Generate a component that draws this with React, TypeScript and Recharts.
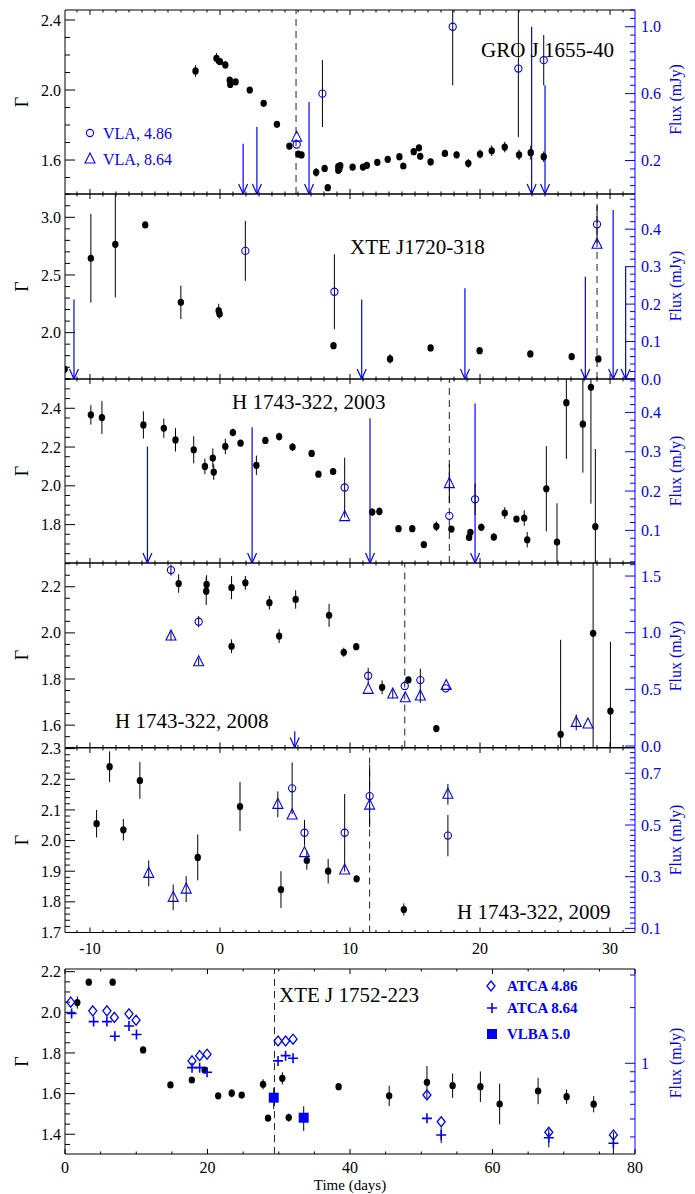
import React from 'react';
import { ComposedChart, Scatter, XAxis, YAxis, ErrorBar, ReferenceLine } from 'recharts';

type Row = [number, number, number?];

const BLUE = '#0000ff';
const SERIF = '"Liberation Serif", "DejaVu Serif", serif';

// ---- GRO J 1655-40 ----
const groGamma: Row[] = [
  [-1.88, 2.109, 0.033], [-0.27, 2.181, 0.03], [0, 2.162, 0.015], [0.41, 2.143, 0.02],
  [0.75, 2.057, 0.015], [0.79, 2.032, 0.01], [1.2, 2.046, 0.01], [2.29, 2.0, 0.01],
  [3.36, 1.924, 0.01], [4.38, 1.804, 0.01], [5.34, 1.68, 0.01], [6.03, 1.634, 0.01],
  [6.27, 1.629, 0.01], [7.4, 1.53, 0.025], [8.05, 1.552, 0.01], [8.29, 1.442, 0.01],
  [9.1, 1.562, 0.01], [9.18, 1.549, 0.02], [9.1, 1.541, 0.01], [9.25, 1.568, 0.01],
  [10.2, 1.56, 0.01], [11.0, 1.56, 0.01], [11.3, 1.57, 0.015], [12.1, 1.587, 0.01],
  [12.9, 1.604, 0.01], [13.8, 1.619, 0.02], [14.1, 1.566, 0.015], [14.9, 1.648, 0.015],
  [15.3, 1.67, 0.015], [15.4, 1.621, 0.01], [16.2, 1.589, 0.02], [17.3, 1.638, 0.02],
  [18.2, 1.63, 0.02], [19.1, 1.581, 0.025], [20.0, 1.634, 0.025], [20.9, 1.653, 0.03],
  [21.9, 1.674, 0.03], [23.0, 1.63, 0.03], [23.9, 1.642, 0.04], [24.9, 1.619, 0.03],
];
const groVla486: Row[] = [[5.9, 0.296, 0], [7.88, 0.6, 0.2], [17.9, 1.0, 0.35], [22.95, 0.75, 0.41], [24.9, 0.8, 0.15]];
const groVla864: Row[] = [[5.9, 0.34, 0]];
const groLimits: Row[] = [[1.78, 0.3], [2.84, 0.4], [6.85, 0.55], [23.97, 1.0], [25.0, 0.65]];

// ---- XTE J1720-318 ----
const xteAGamma: Row[] = [
  [-11.95, 1.682, 0], [-9.93, 2.645, 0.385], [-8.05, 2.766, 0.46], [-5.75, 2.934, 0],
  [-3.01, 2.263, 0.145], [-0.1, 2.19, 0.06], [-0.03, 2.162, 0.04], [8.73, 1.887, 0],
  [13.08, 1.772, 0.04], [16.2, 1.867, 0], [19.97, 1.844, 0], [23.87, 1.815, 0],
  [27.05, 1.792, 0], [29.1, 1.772, 0.02],
];
const xteAVla486: Row[] = [[1.95, 0.342, 0.08], [8.8, 0.233, 0.1], [29.0, 0.413, 0.05]];
const xteAVla864: Row[] = [[29.0, 0.36, 0]];
const xteALimits: Row[] = [[-11.23, 0.212], [10.9, 0.212], [18.84, 0.242], [28.1, 0.273], [30.24, 0.451], [31.2, 0.3]];

// ---- H 1743-322, 2003 ----
const h03Gamma: Row[] = [
  [-9.93, 2.366, 0.05], [-9.08, 2.352, 0.085], [-5.89, 2.314, 0.07], [-4.32, 2.297, 0.05],
  [-3.42, 2.237, 0.06], [-2.02, 2.186, 0.07], [-1.16, 2.1, 0.04], [-0.55, 2.143, 0.05],
  [-0.48, 2.071, 0.04], [0.41, 2.203, 0.04], [0.99, 2.275, 0.02], [1.58, 2.22, 0.01],
  [2.8, 2.106, 0.05], [3.49, 2.234, 0.01], [4.55, 2.254, 0.02], [5.58, 2.2, 0.02],
  [7.05, 2.167, 0.01], [7.57, 2.06, 0.01], [8.7, 2.074, 0.01], [11.71, 1.865, 0.02],
  [12.26, 1.868, 0.02], [13.73, 1.779, 0.01], [14.79, 1.779, 0.015], [15.68, 1.697, 0.01],
  [16.64, 1.791, 0.025], [17.8, 1.777, 0.01], [19.16, 1.734, 0.01], [19.26, 1.76, 0.01],
  [20.1, 1.786, 0.02], [21.06, 1.736, 0.02], [21.9, 1.86, 0.03], [22.8, 1.829, 0.015],
  [23.4, 1.834, 0.04], [23.63, 1.722, 0.04], [25.1, 1.985, 0.22], [25.92, 1.71, 0.2],
  [26.64, 2.429, 0.29], [27.91, 2.318, 0.25], [28.53, 2.508, 0.6], [28.87, 1.79, 0.4],
];
const h03Vla486: Row[] = [[9.59, 0.209, 0.076], [17.64, 0.137, 0], [19.62, 0.179, 0.04]];
const h03Vla864: Row[] = [[9.59, 0.135, 0], [17.64, 0.219, 0.05]];
const h03Limits: Row[] = [[-5.58, 0.313], [2.47, 0.362], [11.54, 0.385], [19.62, 0.423]];

// ---- H 1743-322, 2008 ----
const h08Gamma: Row[] = [
  [-3.18, 2.214, 0.04], [-1.03, 2.21, 0.04], [-1.06, 2.181, 0.06], [0.89, 2.196, 0.05],
  [1.95, 2.217, 0.03], [0.89, 1.942, 0.03], [3.8, 2.131, 0.03], [4.55, 1.986, 0.03],
  [5.82, 2.145, 0.04], [8.39, 2.076, 0.05], [9.52, 1.916, 0.02], [10.48, 1.94, 0.01],
  [12.47, 1.764, 0.03], [14.49, 1.796, 0.005], [16.64, 1.585, 0.01], [26.2, 1.56, 0.41],
  [28.7, 1.998, 0.5], [30.03, 1.661, 0.3],
];
const h08Vla486: Row[] = [[-3.77, 1.553, 0.05], [-1.64, 1.097, 0.05], [11.4, 0.62, 0.07], [14.21, 0.53, 0], [15.41, 0.582, 0.1], [17.36, 0.509, 0]];
const h08Vla864: Row[] = [
  [-3.77, 0.971, 0.04], [-1.64, 0.744, 0.03], [11.4, 0.5, 0], [13.29, 0.459, 0.04], [14.25, 0.426, 0],
  [15.41, 0.441, 0.06], [17.4, 0.535, 0], [27.4, 0.209, 0.07], [28.3, 0.194, 0],
];
const h08Limits: Row[] = [[5.75, 0.13]];

// ---- H 1743-322, 2009 ----
const h09Gamma: Row[] = [
  [-9.49, 2.055, 0.045], [-8.49, 2.241, 0.05], [-7.43, 2.035, 0.035], [-6.16, 2.196, 0.06],
  [-1.71, 1.945, 0.075], [1.54, 2.111, 0.08], [4.69, 1.84, 0.06], [6.68, 1.935, 0.03],
  [8.32, 1.9, 0.04], [10.51, 1.875, 0.01], [14.14, 1.775, 0.02],
];
const h09Vla486: Row[] = [[5.55, 0.642, 0.1], [6.5, 0.47, 0.05], [9.59, 0.47, 0.15], [11.51, 0.612, 0.12], [17.53, 0.459, 0.08]];
const h09Vla864: Row[] = [
  [-5.48, 0.313, 0.05], [-3.6, 0.22, 0.05], [-2.6, 0.252, 0.05], [4.45, 0.58, 0.05], [5.55, 0.539, 0],
  [6.5, 0.393, 0], [9.59, 0.326, 0], [11.51, 0.577, 0], [17.53, 0.619, 0.04],
];

// ---- XTE J 1752-223 ----
const xteBGamma: Row[] = [
  [1.73, 2.048, 0.03], [3.34, 2.148, 0.015], [6.69, 2.148, 0.005], [10.96, 1.815, 0.005],
  [14.8, 1.643, 0.005], [17.8, 1.667, 0.01], [19.6, 1.716, 0.01], [21.5, 1.589, 0.015],
  [23.4, 1.602, 0.02], [24.8, 1.593, 0.01], [27.8, 1.646, 0.025], [28.5, 1.479, 0.01],
  [30.5, 1.675, 0.03], [31.4, 1.482, 0.02], [38.4, 1.634, 0.015], [45.5, 1.589, 0.05],
  [50.8, 1.656, 0.08], [54.4, 1.639, 0.06], [58.3, 1.634, 0.075], [61.0, 1.549, 0.1],
  [66.4, 1.613, 0.065], [70.4, 1.585, 0.035], [74.2, 1.548, 0.04],
];
const xteBAtca486: Row[] = [
  [0.8, 2.14], [3.9, 1.92], [5.88, 1.92], [6.93, 1.77], [8.98, 1.85], [9.97, 1.71],
  [17.83, 1.03], [18.9, 1.1], [19.94, 1.12], [29.9, 1.32], [30.96, 1.32], [32.0, 1.35],
  [50.8, 0.674], [52.8, 0.483], [67.9, 0.424], [76.97, 0.41],
];
const xteBAtca864: Row[] = [
  [0.93, 1.86], [4.02, 1.68], [5.88, 1.68], [7.0, 1.4], [8.98, 1.59], [10.03, 1.43],
  [17.83, 0.947], [18.9, 0.947], [19.94, 0.894], [29.9, 1.03], [30.96, 1.1], [32.0, 1.064],
  [50.8, 0.504], [52.8, 0.41, 0.04], [67.9, 0.396, 0.045], [76.97, 0.37, 0.055],
];
const xteBVlba: Row[] = [[29.3, 0.652, 0.085], [33.5, 0.508, 0.077]];

// ---- axis ticks ----
const steps = (a: number, b: number, s: number) => {
  const out: number[] = [];
  for (let v = a; v <= b + 1e-9; v += s) out.push(Math.round(v * 1000) / 1000);
  return out;
};
const dayMajor = [-10, 0, 10, 20, 30];
const dayMinor = steps(-11, 31, 1);
const timeMajor = [0, 20, 40, 60, 80];
const timeMinor = steps(0, 80, 5);

type Shape = 'ring' | 'tri' | 'diamond' | 'plus' | 'square';

interface PanelCfg {
  top: number;
  h: number;
  xDomain: [number, number];
  xMajor: number[];
  xMinor: number[];
  xLabels: boolean;
  xLabelDy?: number;
  gDomain: [number, number];
  gMajor: number[];
  gMinor: number[];
  fDomain: [number, number];
  fMajor: number[];
  fMinor: number[];
  fLog?: boolean;
  gamma: Row[];
  radio: { rows: Row[]; shape: Shape }[];
  limits?: Row[];
  dashed: number;
}

const shapes: Record<Shape, (p: any) => React.ReactElement> = {
  ring: (p) => <circle cx={p.cx} cy={p.cy} r={3.6} fill="none" stroke={BLUE} strokeWidth={1.1} />,
  tri: (p) => (
    <path d={`M${p.cx},${p.cy - 6}L${p.cx + 5},${p.cy + 4}L${p.cx - 5},${p.cy + 4}Z`} fill="none" stroke={BLUE} strokeWidth={1.1} />
  ),
  diamond: (p) => (
    <path d={`M${p.cx},${p.cy - 5}L${p.cx + 4},${p.cy}L${p.cx},${p.cy + 5}L${p.cx - 4},${p.cy}Z`} fill="none" stroke={BLUE} strokeWidth={1.3} />
  ),
  plus: (p) => (
    <path d={`M${p.cx - 5},${p.cy}H${p.cx + 5}M${p.cx},${p.cy - 5}V${p.cy + 5}`} stroke={BLUE} strokeWidth={1.6} />
  ),
  square: (p) => <rect x={p.cx - 5} y={p.cy - 5} width={10} height={10} fill={BLUE} />,
};
const dot = (p: any) => <ellipse cx={p.cx} cy={p.cy} rx={3.2} ry={3.6} fill="#000" />;

const arrow = (p: any) => {
  const { x1, y1, x2, y2 } = p;
  return (
    <g>
      <line x1={x1} y1={y1} x2={x2} y2={y2} stroke={BLUE} strokeWidth={1.2} />
      <polyline points={`${x2 - 4.5},${y2 - 10} ${x2},${y2} ${x2 + 4.5},${y2 - 10}`} fill="none" stroke={BLUE} strokeWidth={1.2} />
    </g>
  );
};

const PLOT_L = 65;
const PLOT_R = 635;
const W = 695;
const AX_W = 40;
const PAD_TOP = 12;

const isMajor = (v: number, major: number[]) => major.some((m) => Math.abs(m - v) < 1e-6);
const mergeTicks = (major: number[], minor: number[], [a, b]: [number, number]) =>
  Array.from(new Set([...major, ...minor])).filter((v) => v >= a - 1e-9 && v <= b + 1e-9).sort((x, y) => x - y);
const toRows = (rows: Row[]) => rows.map(([t, v, e]) => ({ t, v, e: e ?? 0 }));
const padBottom = (p: PanelCfg) => (p.xLabels ? 30 : 12);

// one chart per panel and layer: 'axes' draws frame + ticks, 'data' draws the marks (clipped by the wrapper)
function PanelChart({ p, layer }: { p: PanelCfg; layer: 'axes' | 'data' }) {
  const padBot = padBottom(p);
  const height = p.h + PAD_TOP + padBot;
  const plotTop = PAD_TOP;
  const plotBot = PAD_TOP + p.h;
  const axes = layer === 'axes';

  const xTick = (props: any) => {
    const { x, payload } = props;
    const v = payload.value;
    const major = isMajor(v, p.xMajor);
    const len = major ? 5 : 2.5;
    return (
      <g>
        <line x1={x} x2={x} y1={plotBot} y2={plotBot - len} stroke="#000" />
        <line x1={x} x2={x} y1={plotTop} y2={plotTop + len} stroke="#000" />
        {major && p.xLabels && (
          <text x={x} y={plotBot + (p.xLabelDy ?? 21)} textAnchor="middle" fontSize={16} fontFamily={SERIF} fill="#000">
            {v}
          </text>
        )}
      </g>
    );
  };
  const gTick = (props: any) => {
    const { y, payload } = props;
    const v = payload.value;
    const major = isMajor(v, p.gMajor);
    return (
      <g>
        <line x1={PLOT_L} x2={PLOT_L + (major ? 10 : 5)} y1={y} y2={y} stroke="#000" />
        {major && (
          <text x={PLOT_L - 4} y={y} dy="0.35em" textAnchor="end" fontSize={16} fontFamily={SERIF} fill="#000">
            {v.toFixed(1)}
          </text>
        )}
      </g>
    );
  };
  const fTick = (props: any) => {
    const { y, payload } = props;
    const v = payload.value;
    const major = isMajor(v, p.fMajor);
    return (
      <g>
        <line x1={PLOT_R} x2={PLOT_R - (major ? 10 : 5)} y1={y} y2={y} stroke={BLUE} />
        {major && (
          <text x={PLOT_R + 6} y={y} dy="0.35em" textAnchor="start" fontSize={16} fontFamily={SERIF} fill={BLUE}>
            {p.fLog ? String(v) : v.toFixed(1)}
          </text>
        )}
      </g>
    );
  };

  return (
    <ComposedChart
      width={W}
      height={height}
      margin={{ top: PAD_TOP, bottom: 0, left: PLOT_L - AX_W, right: W - PLOT_R - AX_W }}
    >
      <XAxis
        type="number"
        dataKey="t"
        domain={p.xDomain}
        allowDataOverflow
        ticks={mergeTicks(p.xMajor, p.xMinor, p.xDomain)}
        interval={0}
        tickLine={false}
        tick={axes ? xTick : false}
        height={padBot}
        axisLine={axes ? { stroke: '#000' } : false}
      />
      <YAxis
        yAxisId="g"
        dataKey="v"
        type="number"
        domain={p.gDomain}
        allowDataOverflow
        ticks={mergeTicks(p.gMajor, p.gMinor, p.gDomain)}
        interval={0}
        tickLine={false}
        tick={axes ? gTick : false}
        width={AX_W}
        axisLine={axes ? { stroke: '#000' } : false}
      />
      <YAxis
        yAxisId="f"
        orientation="right"
        dataKey="v"
        type="number"
        scale={p.fLog ? 'log' : 'linear'}
        domain={p.fDomain}
        allowDataOverflow
        ticks={mergeTicks(p.fMajor, p.fMinor, p.fDomain)}
        interval={0}
        tickLine={false}
        tick={axes ? fTick : false}
        width={AX_W}
        axisLine={axes ? { stroke: BLUE } : false}
      />
      {axes && <ReferenceLine yAxisId="g" y={p.gDomain[1]} stroke="#000" />}
      {!axes && <ReferenceLine yAxisId="g" x={p.dashed} stroke="#222" strokeDasharray="7 5" />}
      {!axes &&
        (p.limits ?? []).map(([t, v], i) => (
          <ReferenceLine
            key={`lim${i}`}
            yAxisId="f"
            segment={[{ x: t, y: v }, { x: t, y: p.fDomain[0] }]}
            shape={arrow}
          />
        ))}
      {!axes && (
        <Scatter yAxisId="g" data={toRows(p.gamma)} shape={dot} isAnimationActive={false}>
          <ErrorBar dataKey="e" direction="y" width={0} stroke="#000" strokeWidth={1} />
        </Scatter>
      )}
      {!axes &&
        p.radio.map((r, i) => (
          <Scatter key={`r${i}`} yAxisId="f" data={toRows(r.rows)} shape={shapes[r.shape]} isAnimationActive={false}>
            <ErrorBar dataKey="e" direction="y" width={0} stroke="#000" strokeWidth={1} />
          </Scatter>
        ))}
    </ComposedChart>
  );
}

function Panel(p: PanelCfg) {
  const padBot = padBottom(p);
  const height = p.h + PAD_TOP + padBot;
  return (
    <div style={{ position: 'absolute', left: 0, top: p.top - PAD_TOP, width: W, height }}>
      <div style={{ position: 'absolute', left: 0, top: 0 }}>
        <PanelChart p={p} layer="axes" />
      </div>
      <div
        style={{
          position: 'absolute',
          left: 0,
          top: 0,
          clipPath: `inset(${PAD_TOP}px ${W - PLOT_R}px ${padBot}px ${PLOT_L}px)`,
        }}
      >
        <PanelChart p={p} layer="data" />
      </div>
    </div>
  );
}

const topX = { xDomain: [-11.92, 31.92] as [number, number], xMajor: dayMajor, xMinor: dayMinor };

const panels: PanelCfg[] = [
  {
    top: 10, h: 184, ...topX, xLabels: false,
    gDomain: [1.406, 2.457], gMajor: [1.6, 2.0, 2.4], gMinor: steps(1.5, 2.4, 0.1),
    fDomain: [0, 1.1], fMajor: [0.2, 0.6, 1.0], fMinor: steps(0.05, 1.1, 0.05),
    gamma: groGamma,
    radio: [{ rows: groVla486, shape: 'ring' }, { rows: groVla864, shape: 'tri' }],
    limits: groLimits, dashed: 5.85,
  },
  {
    top: 194, h: 185, ...topX, xLabels: false,
    gDomain: [1.598, 3.202], gMajor: [2.0, 2.5, 3.0], gMinor: steps(1.6, 3.2, 0.1),
    fDomain: [0, 0.494], fMajor: [0, 0.1, 0.2, 0.3, 0.4], fMinor: steps(0, 0.48, 0.02),
    gamma: xteAGamma,
    radio: [{ rows: xteAVla486, shape: 'ring' }, { rows: xteAVla864, shape: 'tri' }],
    limits: xteALimits, dashed: 29.0,
  },
  {
    top: 379, h: 184, ...topX, xLabels: false,
    gDomain: [1.602, 2.551], gMajor: [1.6, 1.8, 2.0, 2.2, 2.4], gMinor: steps(1.65, 2.55, 0.05),
    fDomain: [0.017, 0.485], fMajor: [0.1, 0.2, 0.3, 0.4], fMinor: steps(0.02, 0.48, 0.02),
    gamma: h03Gamma,
    radio: [{ rows: h03Vla486, shape: 'ring' }, { rows: h03Vla864, shape: 'tri' }],
    limits: h03Limits, dashed: 17.64,
  },
  {
    top: 563, h: 184.5, ...topX, xLabels: false,
    gDomain: [1.503, 2.303], gMajor: [1.6, 1.8, 2.0, 2.2], gMinor: steps(1.55, 2.3, 0.05),
    fDomain: [-0.013, 1.615], fMajor: [0, 0.5, 1.0, 1.5], fMinor: steps(0.1, 1.6, 0.1),
    gamma: h08Gamma,
    radio: [{ rows: h08Vla486, shape: 'ring' }, { rows: h08Vla864, shape: 'tri' }],
    limits: h08Limits, dashed: 14.21,
  },
  {
    top: 748, h: 184.5, ...topX, xLabels: true,
    gDomain: [1.7, 2.302], gMajor: steps(1.7, 2.3, 0.1), gMinor: steps(1.72, 2.3, 0.02),
    fDomain: [0.084, 0.798], fMajor: [0.1, 0.3, 0.5, 0.7], fMinor: steps(0.1, 0.78, 0.02),
    gamma: h09Gamma,
    radio: [{ rows: h09Vla486, shape: 'ring' }, { rows: h09Vla864, shape: 'tri' }],
    dashed: 11.51,
  },
  {
    top: 969, h: 185, xDomain: [0, 80], xMajor: timeMajor, xMinor: timeMinor, xLabels: true, xLabelDy: 19,
    gDomain: [1.303, 2.213], gMajor: [1.4, 1.6, 1.8, 2.0, 2.2], gMinor: steps(1.35, 2.2, 0.05),
    fDomain: [0.3234, 3.233], fMajor: [1], fMinor: [0.4, 0.5, 0.6, 0.7, 0.8, 0.9, 2, 3], fLog: true,
    gamma: xteBGamma,
    radio: [
      { rows: xteBAtca486, shape: 'diamond' },
      { rows: xteBAtca864, shape: 'plus' },
      { rows: xteBVlba, shape: 'square' },
    ],
    dashed: 29.4,
  },
];

const titles = [
  { text: 'GRO J 1655-40', x: 481, y: 57 },
  { text: 'XTE J1720-318', x: 350, y: 254 },
  { text: 'H 1743-322, 2003', x: 232, y: 409 },
  { text: 'H 1743-322, 2008', x: 115, y: 728 },
  { text: 'H 1743-322, 2009', x: 457, y: 919 },
  { text: 'XTE J 1752-223', x: 279, y: 1002 },
];
const gammaLabelY = [102, 286.5, 471, 655, 840, 1061.5];
const fluxLabelY = [99.5, 286, 471, 656, 840, 1063];

function Overlay() {
  return (
    <svg width={W} height={1194} style={{ position: 'absolute', left: 0, top: 0, pointerEvents: 'none' }}>
      {titles.map((t) => (
        <text key={t.text} x={t.x} y={t.y} fontSize={21} fontFamily={SERIF} fill="#000">
          {t.text}
        </text>
      ))}
      {gammaLabelY.map((y, i) => (
        <text key={`g${i}`} x={28} y={y} fontSize={18} fontFamily={SERIF} textAnchor="middle" transform={`rotate(-90 28 ${y})`}>
          Γ
        </text>
      ))}
      {fluxLabelY.map((y, i) => (
        <text key={`f${i}`} x={681} y={y} fontSize={16} fontFamily={SERIF} fill={BLUE} textAnchor="middle" transform={`rotate(-90 681 ${y})`}>
          Flux (mJy)
        </text>
      ))}
      {/* VLA legend */}
      <circle cx={90} cy={133} r={3.6} fill="none" stroke={BLUE} strokeWidth={1.1} />
      <text x={103} y={139} fontSize={16} fontFamily={SERIF} fill={BLUE}>VLA, 4.86</text>
      <path d="M90,153L95,163L85,163Z" fill="none" stroke={BLUE} strokeWidth={1.1} />
      <text x={103} y={165} fontSize={16} fontFamily={SERIF} fill={BLUE}>VLA, 8.64</text>
      {/* ATCA / VLBA legend */}
      <path d="M491,981L495,986L491,991L487,986Z" fill="none" stroke={BLUE} strokeWidth={1.3} />
      <text x={507} y={991} fontSize={15} fontWeight="bold" fontFamily={SERIF} fill={BLUE}>ATCA 4.86</text>
      <path d="M487,1008H497M492,1003V1013" stroke={BLUE} strokeWidth={1.6} />
      <text x={507} y={1013} fontSize={15} fontWeight="bold" fontFamily={SERIF} fill={BLUE}>ATCA 8.64</text>
      <rect x={487} y={1029} width={10} height={10} fill={BLUE} />
      <text x={507} y={1039} fontSize={15} fontWeight="bold" fontFamily={SERIF} fill={BLUE}>VLBA 5.0</text>
      <text x={350} y={1190} fontSize={15} fontFamily={SERIF} textAnchor="middle">Time (days)</text>
    </svg>
  );
}

export default function App() {
  return (
    <div style={{ position: 'absolute', left: 0, top: 0, width: W, height: 1194, background: '#fff', overflow: 'hidden' }}>
      {panels.map((p, i) => (
        <Panel key={i} {...p} />
      ))}
      <Overlay />
    </div>
  );
}
